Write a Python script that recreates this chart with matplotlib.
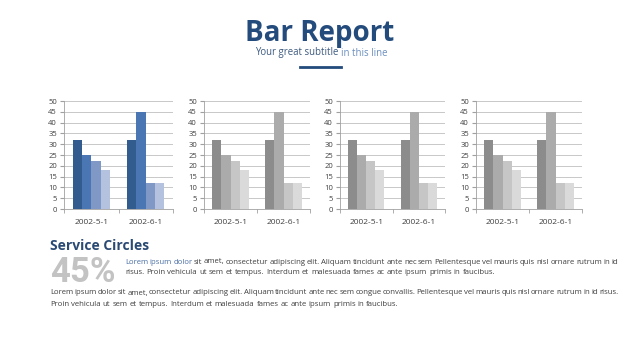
import numpy as np
import matplotlib
matplotlib.use("Agg")
import matplotlib.pyplot as plt

plt.rcParams['font.family'] = ['Open Sans', 'DejaVu Sans']

# data
categories = ["2002-5-1", "2002-6-1"]
series = [
    [32, 32],
    [25, 45],
    [22, 12],
    [18, 12],
]
blue_colors = ["#335c8e", "#4a77b4", "#8098c6", "#b4c2df"]
gray_colors = ["#8c8c8c", "#ababab", "#c6c6c6", "#dadada"]
y_ticks = list(range(0, 55, 5))

W, H = 640, 360
fig = plt.figure(figsize=(6.4, 3.6), dpi=100)
fig.patch.set_facecolor("white")
renderer = fig.canvas.get_renderer()


def px_axes(x0, y0, x1, y1):
    return fig.add_axes([x0 / W, 1 - y1 / H, (x1 - x0) / W, (y1 - y0) / H])


def bar_chart(ax, colors):
    x = np.arange(len(categories))
    bw = 0.172
    n = len(series)
    for i, vals in enumerate(series):
        ax.bar(x + (i - (n - 1) / 2) * bw, vals, bw, color=colors[i], zorder=3)
    ax.set_xlim(-0.5, len(categories) - 0.5)
    ax.set_ylim(0, 50)
    ax.set_yticks(y_ticks)
    ax.set_xticks(x)
    ax.set_xticklabels(categories, fontsize=6)
    ax.set_xticks(np.arange(-0.5, len(categories), 1.0), minor=True)
    ax.tick_params(axis="x", which="major", length=0, pad=7)
    ax.tick_params(axis="x", which="minor", length=3, color="#a0a0a0")
    ax.tick_params(axis="y", length=3, color="#a0a0a0", pad=2, labelsize=5.5)
    ax.tick_params(labelcolor="#404040")
    ax.grid(axis="y", color="#bfbfbf", linewidth=0.6, zorder=0)
    for s in ["top", "right"]:
        ax.spines[s].set_visible(False)
    for s in ["left", "bottom"]:
        ax.spines[s].set_color("#a0a0a0")
        ax.spines[s].set_linewidth(0.6)


boxes = [(64, 101, 173, 209), (204, 101, 310, 209), (340, 101, 445, 209), (476, 101, 582, 209)]
for k, b in enumerate(boxes):
    ax = px_axes(*b)
    bar_chart(ax, blue_colors if k == 0 else gray_colors)


def width_px(t):
    return t.get_window_extent(renderer).width


# header
fig.text(320 / W, 1 - 33 / H, "Bar Report", ha="center", va="center",
         fontsize=20, fontweight="bold", color="#234b7c")
s1 = fig.text(0, 1 - 53 / H, "Your great subtitle", ha="left", va="center",
              fontsize=6.9, color="#3d5a80")
s2 = fig.text(0, 1 - 53 / H, "in this line", ha="left", va="center",
              fontsize=6.9, color="#6a8fc0")
sp = 2.2
total = width_px(s1) + sp + width_px(s2)
sx = 321 - total / 2
s1.set_x(sx / W)
s2.set_x((sx + width_px(s1) + sp) / W)
fig.add_artist(plt.Line2D([300 / W, 341 / W], [1 - 67 / H, 1 - 67 / H],
                          color="#234b7c", linewidth=2, transform=fig.transFigure))

# bottom text block
fig.text(50 / W, 1 - 246 / H, "Service Circles", ha="left", va="center",
         fontsize=10, fontweight="bold", color="#2a4a74")
big = fig.text(50 / W, 1 - 272 / H, "45%", ha="left", va="center",
               fontsize=25, fontweight="bold", color="#c3c3c3",
               family=["Roboto", "DejaVu Sans"])
# keep the big number clear of the paragraph beside it
bw_ = width_px(big)
if bw_ > 70:
    big.set_fontsize(25 * 66 / bw_)

body = "#404040"
link = "#4a6fa5"
fs = 5.6


def justify(x0, x1, y, segs, last=False):
    words = []
    for txt, col in segs:
        for w in txt.split():
            words.append(fig.text(0, 1 - y / H, w, ha="left", va="center",
                                  fontsize=fs, color=col))
    widths = [width_px(t) for t in words]
    if last:
        gap = 2.0
    else:
        gap = (x1 - x0 - sum(widths)) / (len(words) - 1)
    x = x0
    for t, w in zip(words, widths):
        t.set_x(x / W)
        x += w + gap


justify(125, 618, 262, [("Lorem ipsum dolor", link),
                        ("sit amet, consectetur adipiscing elit. Aliquam tincidunt ante nec sem Pellentesque vel mauris quis nisl ornare rutrum in id", body)])
justify(125, 618, 273, [("risus. Proin vehicula ut sem et tempus. Interdum et malesuada fames ac ante ipsum primis in faucibus.", body)], last=True)
justify(50, 618, 293, [("Lorem ipsum dolor sit amet, consectetur adipiscing elit. Aliquam tincidunt ante nec sem congue convallis. Pellentesque vel mauris quis nisl ornare rutrum in id risus.", body)])
justify(50, 618, 305, [("Proin vehicula ut sem et tempus. Interdum et malesuada fames ac ante ipsum primis in faucibus.", body)], last=True)

fig.savefig("out.png", dpi=100, facecolor="white")
